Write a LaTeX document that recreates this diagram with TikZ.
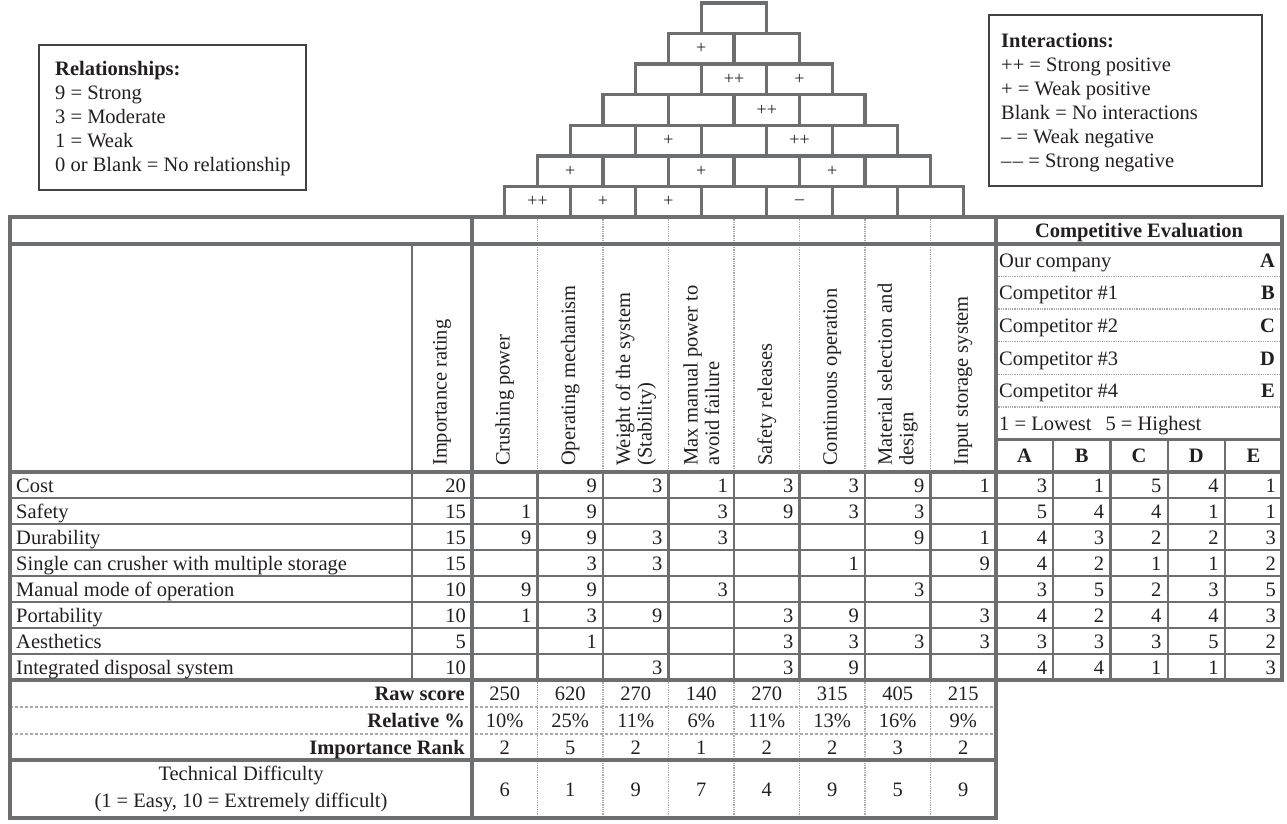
\documentclass[tikz,border=0pt]{standalone}
\usepackage{fontspec}
\setmainfont{Liberation Serif}
\definecolor{linegray}{HTML}{6D6E70}
\definecolor{dotgray}{HTML}{A7A9AC}
\definecolor{ink}{HTML}{231F20}

\begin{document}
\begin{tikzpicture}[x=1pt, y=-1pt, font=\fontsize{20.5}{24}\selectfont, text=ink]

        % --- STYLES ---
        \tikzstyle{heavyline} = [draw=linegray, line width=3.4pt]
        \tikzstyle{ruleline} = [draw=linegray, line width=2.2pt]
        \tikzstyle{dotline} = [draw=dotgray, line width=1.3pt, densely dotted]
        \tikzstyle{dashline} = [draw=dotgray, line width=1.3pt, densely dashed]
        \tikzstyle{legendbox} = [draw=ink!85, line width=1.6pt]
        \tikzstyle{roofcell} = [draw=linegray, line width=3.4pt, minimum width=65.5pt, minimum height=30.57pt, inner sep=0pt, font=\fontsize{18}{18}\selectfont]
        \tikzstyle{numcell} = [anchor=base east, inner sep=0pt]
        \tikzstyle{midcell} = [anchor=base, inner sep=0pt]
        \tikzstyle{rowlabel} = [anchor=base west, inner sep=0pt]
        \tikzstyle{boldtext} = [font=\fontsize{20.5}{24}\selectfont\bfseries]
        \tikzstyle{colhead} = [rotate=90, anchor=west, align=left, inner sep=0pt, font=\fontsize{20.5}{21.5}\selectfont]

        % --- DEFINITIONS ---
        \def\xL{10}   % table left
        \def\xI{412}  % importance column
        \def\xT{472}  % first technical column
        \def\xE{996}  % competitive evaluation
        \def\xR{1282} % table right
        \def\cw{65.5} % technical column width
        \def\ew{57.2} % evaluation column width
        \def\yT{217} \def\yA{244} \def\sh{32.57}
        \def\yB{472} \def\rh{26} \def\yC{680} \def\yD{760} \def\yE{818}
        \def\rfh{30.57} % roof row height
        \def\nb{}

        \useasboundingbox (0,0) rectangle (1287,823);

        % --- LEGENDS ---
        \draw[legendbox] (39,45) rectangle (306,190);
        \node[anchor=north west, align=left, inner sep=0pt] (rel) at (55,61) {\textbf{Relationships:}\\9 = Strong\\3 = Moderate\\1 = Weak\\0 or Blank = No relationship};
        \draw[legendbox] (989,15) rectangle (1262,186);
        \node[anchor=north west, align=left, inner sep=0pt] (inter) at (1001,33) {\textbf{Interactions:}\\++ = Strong positive\\+ = Weak positive\\Blank = No interactions\\– = Weak negative\\–\kern1.5pt– = Strong negative};

        % --- ROOF ---
        \foreach \k/\marks in {1/{++,+,+,\nb,–,\nb,\nb}, 2/{+,\nb,+,\nb,+,\nb}, 3/{\nb,+,\nb,++,\nb}, 4/{\nb,\nb,++,\nb}, 5/{\nb,++,+}, 6/{+,\nb}, 7/{\nb}}
            \foreach \m [count=\i] in \marks
                \node[roofcell] (roof-\k-\i) at ({\xT+(\k/2+\i-0.5)*\cw}, {\yT-(\k-0.5)*\rfh}) {\m};

        % --- GRID ---
        \foreach \i in {1,...,7} {
            \draw[dotline] ({\xT+\i*\cw},\yT) -- ({\xT+\i*\cw},\yB);
            \draw[dotline] ({\xT+\i*\cw},\yC) -- ({\xT+\i*\cw},\yE);
            \draw[ruleline] ({\xT+\i*\cw},\yB) -- ({\xT+\i*\cw},\yC);
        }
        \foreach \k in {1,...,5} \draw[dotline] (\xE,{\yA+\k*\sh}) -- (\xR,{\yA+\k*\sh});
        \draw[dashline] (\xL,707) -- (\xE,707);
        \draw[dashline] (\xL,734) -- (\xE,734);
        \foreach \j in {1,...,4} \draw[ruleline] ({\xE+\j*\ew},{\yA+6*\sh}) -- ({\xE+\j*\ew},\yC);
        \foreach \r in {1,...,7} \draw[ruleline] (\xL,{\yB+\r*\rh}) -- (\xR,{\yB+\r*\rh});
        \draw[ruleline] (\xI,\yA) -- (\xI,\yC);

        \draw[heavyline] (\xL,\yT) -- (\xR,\yT) -- (\xR,\yC) -- (\xE,\yC) -- (\xE,\yE) -- (\xL,\yE) -- cycle;
        \draw[heavyline] (\xL,\yA) -- (\xR,\yA);
        \draw[heavyline] (\xL,\yB) -- (\xR,\yB);
        \draw[heavyline] (\xL,\yC) -- (\xE,\yC);
        \draw[heavyline] (\xL,\yD) -- (\xE,\yD);
        \draw[heavyline] (\xT,\yT) -- (\xT,\yE);
        \draw[heavyline] (\xE,\yT) -- (\xE,\yC);
        \draw[heavyline] (\xE,{\yA+6*\sh}) -- (\xR,{\yA+6*\sh});

        % --- HEADINGS ---
        \node[midcell, boldtext] (ceval) at ({(\xE+\xR)/2}, 237) {Competitive Evaluation};
        \node[colhead] (h-imp) at ({(\xI+\xT)/2}, 466) {Importance rating};
        \foreach \t [count=\c] in {Crushing power, Operating mechanism, {Weight of the system\\(Stability)}, {Max manual power to\\avoid failure}, Safety releases, Continuous operation, {Material selection and\\design}, Input storage system}
            \node[colhead] (h-\c) at ({\xT+(\c-0.5)*\cw}, 466) {\t};

        % Competitive evaluation key
        \foreach \t/\l [count=\k] in {Our company/A, Competitor \#1/B, Competitor \#2/C, Competitor \#3/D, Competitor \#4/E} {
            \node[rowlabel] (ce-\k) at (999, {\yA+(\k-0.5)*\sh+7}) {\t};
            \node[numcell, boldtext] (cl-\k) at (1275, {\yA+(\k-0.5)*\sh+7}) {\l};
        }
        \node[rowlabel] (ce-scale) at (999, {\yA+5.5*\sh+7}) {1 = Lowest\hspace{14pt}5 = Highest};
        \foreach \l [count=\j] in {A,B,C,D,E}
            \node[midcell, boldtext] (ch-\j) at ({\xE+(\j-0.5)*\ew}, {\yA+6.5*\sh+7}) {\l};

        % --- CUSTOMER REQUIREMENTS ---
        \foreach \lbl/\imp/\vals/\cmp [count=\r] in {
            Cost/20/{\nb,9,3,1,3,3,9,1}/{3,1,5,4,1},
            Safety/15/{1,9,\nb,3,9,3,3,\nb}/{5,4,4,1,1},
            Durability/15/{9,9,3,3,\nb,\nb,9,1}/{4,3,2,2,3},
            Single can crusher with multiple storage/15/{\nb,3,3,\nb,\nb,1,\nb,9}/{4,2,1,1,2},
            Manual mode of operation/10/{9,9,\nb,3,\nb,\nb,3,\nb}/{3,5,2,3,5},
            Portability/10/{1,3,9,\nb,3,9,\nb,3}/{4,2,4,4,3},
            Aesthetics/5/{\nb,1,\nb,\nb,3,3,3,3}/{3,3,3,5,2},
            Integrated disposal system/10/{\nb,\nb,3,\nb,3,9,\nb,\nb}/{4,4,1,1,3}} {
            \node[rowlabel] (req-\r) at (16, {\yB+(\r-0.5)*\rh+7}) {\lbl};
            \node[numcell] (imp-\r) at (\xT-6, {\yB+(\r-0.5)*\rh+7}) {\imp};
            \foreach \v [count=\c] in \vals
                \node[numcell] (v-\r-\c) at ({\xT+\c*\cw-6}, {\yB+(\r-0.5)*\rh+7}) {\v};
            \foreach \v [count=\j] in \cmp
                \node[numcell] (e-\r-\j) at ({\xE+\j*\ew-6}, {\yB+(\r-0.5)*\rh+7}) {\v};
        }

        % --- SCORES ---
        \foreach \lbl/\vals/\yy in {Raw score/{250,620,270,140,270,315,405,215}/700.5, Relative \%/{10\%,25\%,11\%,6\%,11\%,13\%,16\%,9\%}/727.5, Importance Rank/{2,5,2,1,2,2,3,2}/754} {
            \node[numcell, boldtext] (s-\yy) at (\xT-7, \yy) {\lbl};
            \foreach \v [count=\c] in \vals
                \node[midcell] (s-\yy-\c) at ({\xT+(\c-0.5)*\cw}, \yy) {\v};
        }
        \node[align=center, font=\fontsize{20.5}{27}\selectfont] (td) at ({(\xL+\xT)/2}, 789) {Technical Difficulty\\(1 = Easy, 10 = Extremely difficult)};
        \foreach \v [count=\c] in {6,1,9,7,4,9,5,9}
            \node[midcell] (td-\c) at ({\xT+(\c-0.5)*\cw}, 796) {\v};

\end{tikzpicture}
\end{document}
